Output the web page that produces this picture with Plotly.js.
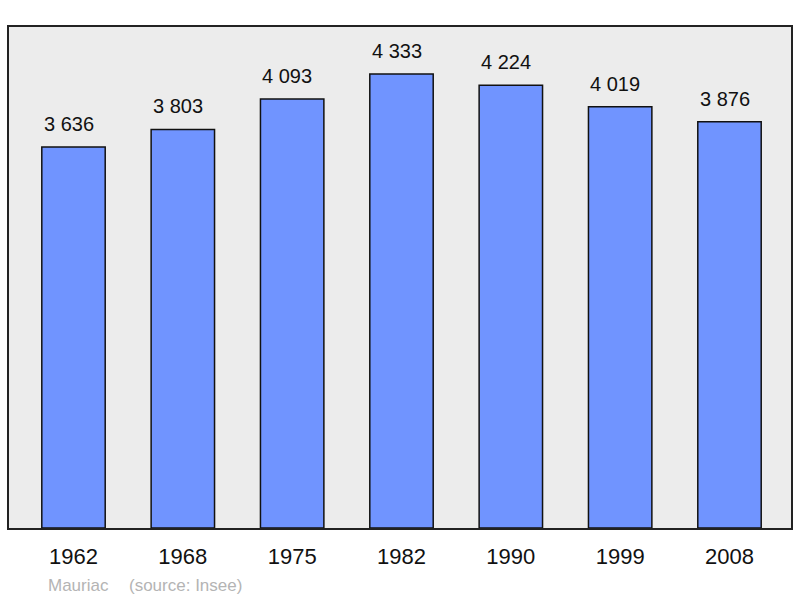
<!DOCTYPE html>
<html><head><meta charset="utf-8">
<script src="https://cdn.plot.ly/plotly-3.0.1.min.js"></script>
<style>html,body{margin:0;padding:0;background:#fff}#chart{width:800px;height:598px}</style>
</head><body><div id="chart"></div>
<script>
const years = ['1962','1968','1975','1982','1990','1999','2008'];
const population = [3636, 3803, 4093, 4333, 4224, 4019, 3876];
const place = 'Mauriac';
const source = '(source: Insee)';

const FONT = 'Liberation Sans, Arial, sans-serif';
function fmt(v){ return String(v).replace(/\B(?=(\d{3})+(?!\d))/g, ' '); }

const trace = {
  type: 'bar', x: years, y: population, width: 0.58,
  marker: {color: '#7094ff', line: {color: '#111', width: 1.5}},
  hoverinfo: 'skip'
};
const annotations = years.map((y, i) => ({
  x: i, y: population[i], xref: 'x', yref: 'y', text: fmt(population[i]),
  showarrow: false, yanchor: 'bottom', yshift: 10, xshift: -5,
  font: {family: FONT, size: 20, color: '#111'}
}));
annotations.push({
  xref: 'paper', yref: 'paper', x: 37/782, y: -57.5/501, xanchor: 'left', yanchor: 'middle',
  showarrow: false, text: place,
  font: {family: FONT, size: 17, color: '#b4b4b4'}
});
annotations.push({
  xref: 'paper', yref: 'paper', x: 118/782, y: -57.5/501, xanchor: 'left', yanchor: 'middle',
  showarrow: false, text: source,
  font: {family: FONT, size: 17, color: '#b4b4b4'}
});
const layout = {
  width: 800, height: 598,
  margin: {l: 9, r: 9, t: 27, b: 70},
  paper_bgcolor: '#fff', plot_bgcolor: '#ececec',
  showlegend: false,
  xaxis: {type: 'category', range: [-0.59, 6.5625], showline: true, mirror: true,
    linecolor: '#222', linewidth: 2, ticks: '', showgrid: false, ticklabelstandoff: 8,
    tickfont: {family: FONT, size: 22, color: '#111'}},
  yaxis: {range: [0, 4781], showline: true, mirror: true, linecolor: '#222', linewidth: 2,
    showgrid: false, zeroline: false, showticklabels: false, ticks: ''},
  annotations: annotations
};
Plotly.newPlot('chart', [trace], layout, {displayModeBar: false, staticPlot: true});
</script></body></html>
